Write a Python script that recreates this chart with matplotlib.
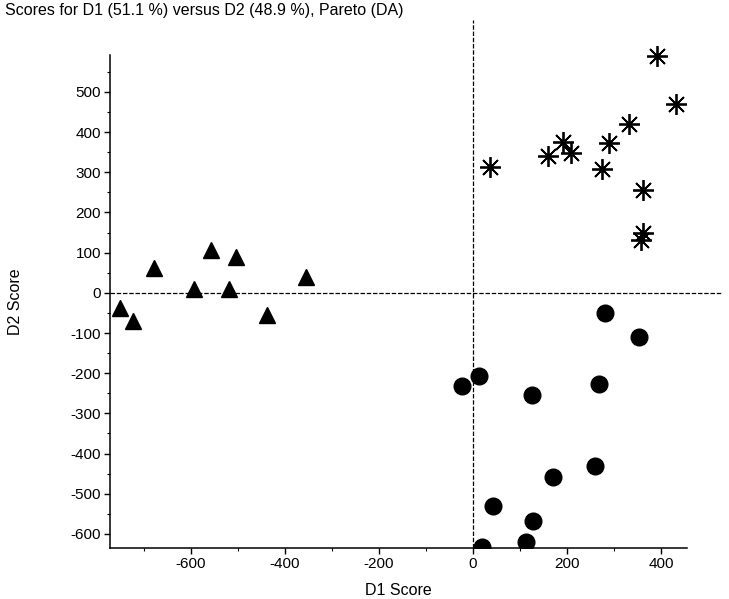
import matplotlib
matplotlib.use("Agg")
import matplotlib.pyplot as plt
from matplotlib.ticker import FixedLocator
import numpy as np

plt.rcParams['font.family'] = ['Liberation Sans', 'DejaVu Sans']
plt.rcParams['lines.scale_dashes'] = False
plt.rcParams['axes.unicode_minus'] = False

title = "Scores for D1 (51.1 %) versus D2 (48.9 %), Pareto (DA)"
xlabel = "D1 Score"
ylabel = "D2 Score"

# Class: stars
star_x = [36, 160, 192, 208, 274, 290, 333, 391, 433, 361, 361, 357]
star_y = [312, 341, 375, 349, 308, 372, 420, 590, 470, 256, 148, 132]
# Class: triangles
tri_x = [-751, -724, -678, -593, -558, -518, -503, -439, -354]
tri_y = [-38, -71, 63, 10, 107, 10, 90, -55, 39]
# Class: circles
circ_x = [282, 354, -24, 12, 126, 269, 260, 171, 43, 128, 113, 19]
circ_y = [-51, -109, -233, -206, -255, -226, -432, -459, -530, -569, -621, -633]

x_major = [-600, -400, -200, 0, 200, 400]
y_major = list(range(-600, 501, 100))

W, H = 729, 599
fig = plt.figure(figsize=(W/100, H/100), dpi=100)
ax = fig.add_axes([110/W, (H-548)/H, (723-110)/W, (548-20)/H])

xlim = (-772, 532)
ylim = (-635, 679)
x_spine = (-772, 455)
y_spine = (-635, 592)

ax.axhline(0, color='black', lw=0.9, dashes=(3.2, 1.3), zorder=1)
ax.axvline(0, color='black', lw=0.9, dashes=(3.2, 1.3), zorder=1)

ax.plot(star_x, star_y, linestyle='none', marker=(8, 2, 0), ms=15,
        mec='black', mew=1.3, zorder=3)
ax.plot(tri_x, tri_y, linestyle='none', marker='^', ms=12,
        color='black', zorder=3)
ax.plot(circ_x, circ_y, linestyle='none', marker='o', ms=12,
        color='black', zorder=3)

for s in ['top', 'right']:
    ax.spines[s].set_visible(False)
ax.spines['left'].set_bounds(*y_spine)
ax.spines['bottom'].set_bounds(*x_spine)
for s in ['left', 'bottom']:
    ax.spines[s].set_linewidth(1.1)

x_minor = [v for v in range(-700, 451, 100) if v not in x_major]
y_minor = [v for v in range(-550, 591, 50) if v not in y_major]
ax.xaxis.set_major_locator(FixedLocator(x_major))
ax.xaxis.set_minor_locator(FixedLocator(x_minor))
ax.yaxis.set_major_locator(FixedLocator(y_major))
ax.yaxis.set_minor_locator(FixedLocator(y_minor))
ax.tick_params(which='major', direction='out', length=4, width=1, labelsize=11, pad=2.5)
ax.tick_params(which='minor', direction='out', length=2, width=0.8)

ax.set_xlim(*xlim)
ax.set_ylim(*ylim)

ax.set_xlabel(xlabel, fontsize=11.5)
ax.set_ylabel(ylabel, fontsize=11.5)
ax.xaxis.set_label_coords(((110+687)/2 - 110)/(723-110), -0.066)
ax.yaxis.set_label_coords(-0.142, (548 - (55+548)/2)/(548-20))

fig.text(5/W, 1 - 11/H, title, fontsize=11.5, ha='left', va='center')

fig.savefig("out.png", dpi=100)
